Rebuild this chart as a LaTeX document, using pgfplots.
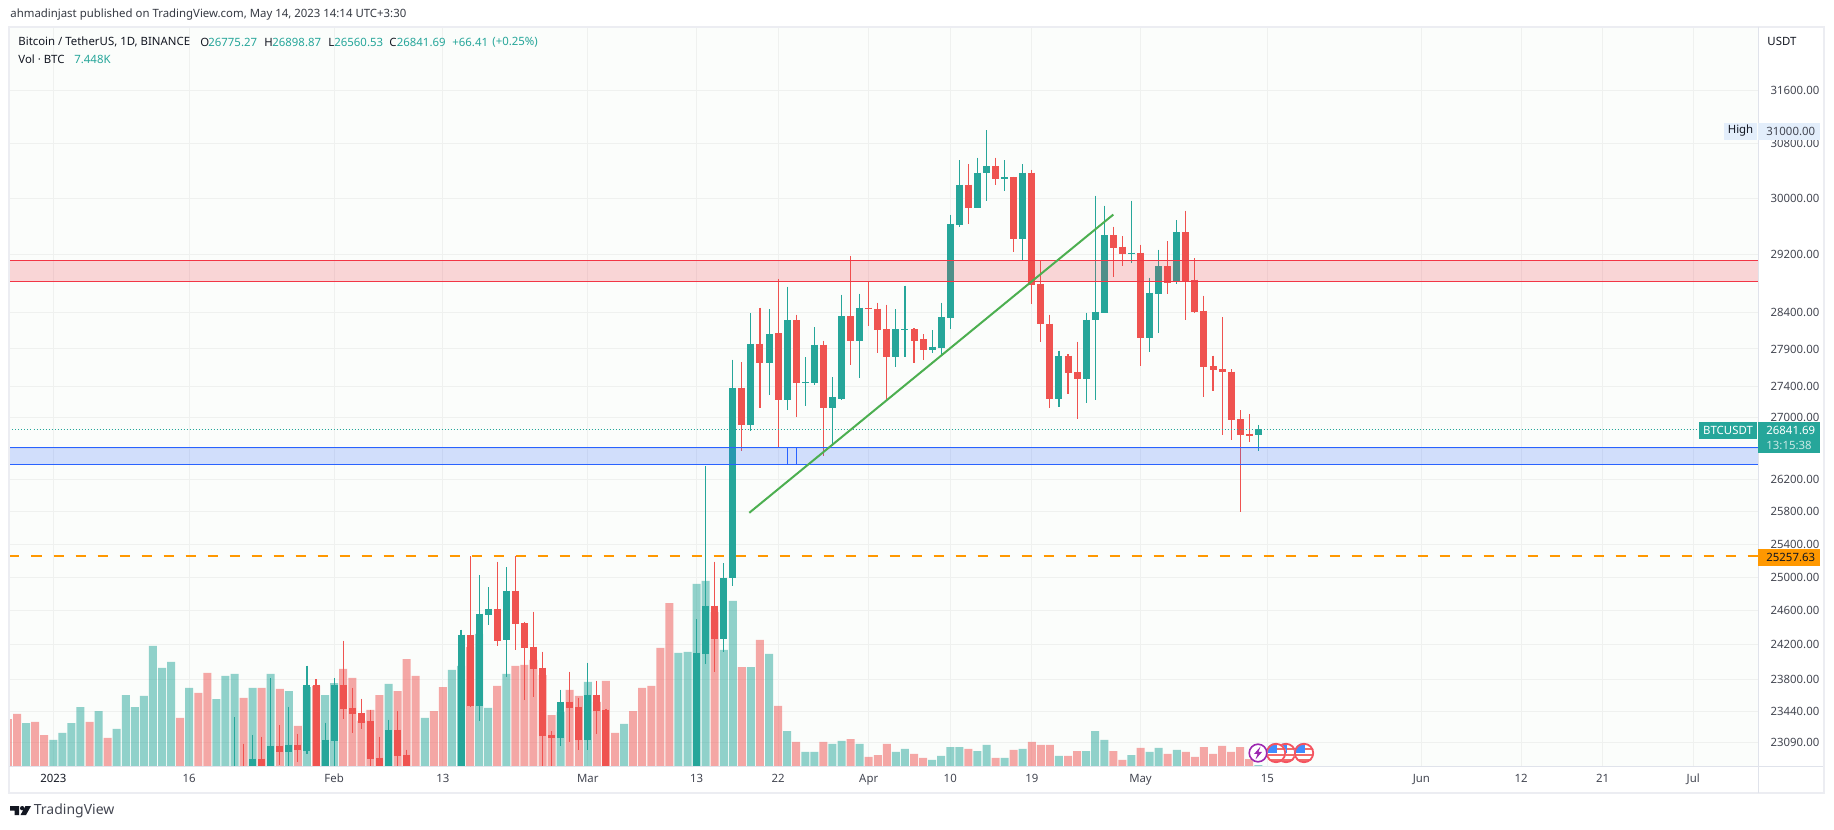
\documentclass[border=0pt]{standalone}
\usepackage{fontspec}
\setmainfont{Noto Sans}
\usepackage{pgfplots}
\usepackage{pgfplotstable}
\pgfplotsset{compat=1.18}
\definecolor{upc}{HTML}{26A69A}
\definecolor{dnc}{HTML}{EF5350}
\definecolor{bgc}{HTML}{FBFDFB}
\definecolor{gridc}{HTML}{EFF1EF}
\definecolor{framec}{HTML}{ECEDF2}
\definecolor{sepc}{HTML}{E0E3EB}
\definecolor{zred}{HTML}{F23645}
\definecolor{zblue}{HTML}{2962FF}
\definecolor{orng}{HTML}{FF9800}
\definecolor{lgreen}{HTML}{4CAF50}
\definecolor{txt}{HTML}{131722}
\definecolor{tickc}{HTML}{434651}
\definecolor{hitag}{HTML}{E3EEFB}
\definecolor{purp}{HTML}{9C27B0}
\pgfplotstableread{
d o h l c
20 22500 23367 22400 22700
22 22650 23176 22500 22908
24 22650 23809 22500 23053
26 22986 23490 22800 23064
28 22997 23958 22964 23740
30 22700 23310 22500 23120
31 23109 23809 22800 23729
37 22750 23344 22600 23232
45 22600 24377 22400 24318
47 23501 25019 23333 24565
48 24553 24875 24424 24624
50 24259 25116 23832 24839
56 23142 23683 23053 23546
59 23120 23993 23008 23625
71 22000 24495 21900 24108
72 24096 26379 23970 24659
74 24271 25164 24119 24995
75 24983 27759 24887 27388
77 26892 28381 26827 27973
79 27706 28435 27295 28096
81 27229 28751 27099 28286
83 27441 27786 27151 27455
84 27441 28191 27415 27960
86 27112 27521 26633 27256
87 27242 28640 27229 28340
89 28014 28654 27508 28462
93 27786 28435 27653 28164
94 28150 28765 27799 28164
97 27892 28150 27852 27933
98 27919 28530 27812 28327
99 28313 29765 28164 29637
100 29623 30549 29595 30198
102 29865 30592 29851 30373
103 30359 31000 29965 30461
105 30286 30549 30110 30300
107 29410 30490 29114 30373
111 27242 27879 27138 27812
114 27494 28394 27190 28299
115 28286 30037 27229 28408
116 28394 29893 28381 29467
119 29211 29965 29072 29225
121 28055 28876 27865 28668
122 28654 29267 28109 29030
124 28821 29680 28793 29510
133 26775.27 26898.87 26560.53 26841.69
}\upcandles
\pgfplotstableread{
d o h l c
21 22700 23075 22500 22600
23 22908 23154 22500 22650
25 23053 23277 22840 22986
27 23064 23187 22874 23008
29 23740 23798 22500 22700
32 23729 24248 23355 23467
33 23478 23706 23198 23411
34 23423 23579 23243 23310
35 23322 23456 22700 22908
36 22919 23154 22500 22750
38 23232 23445 22700 22941
39 22952 23008 22550 22700
46 24318 25249 23490 23501
49 24624 25188 24189 24248
51 24839 25249 24142 24436
52 24448 24471 23568 24165
53 24177 24589 23602 23924
54 23935 24119 22700 23165
55 23176 23210 22700 23142
57 23546 23889 23098 23478
58 23490 23591 23008 23120
60 23625 23786 23187 23445
61 23456 23467 22200 22350
73 24659 25188 23889 24271
76 27388 27720 26568 26892
78 27973 28462 27125 27706
80 28109 28863 26607 27229
82 28286 28367 26996 27441
85 27960 28014 26505 27112
88 28340 29183 27680 28014
90 28462 28821 28218 28435
91 28449 28530 27852 28150
92 28164 28503 27229 27786
95 28164 28177 27706 28014
96 28028 28096 27759 27892
101 30198 30490 29637 29865
104 30461 30592 30198 30286
106 30300 30315 29239 29410
108 30373 30417 28517 28779
109 28793 29114 28000 28232
110 28245 28367 27125 27242
112 27812 27830 27309 27574
113 27587 28000 26970 27494
117 29467 29595 28890 29296
118 29310 29453 29030 29211
120 29225 29339 27667 28055
123 29030 29382 28654 28807
125 29510 29822 28299 28835
126 28849 29142 28394 28408
127 28422 28626 27256 27653
128 27667 27812 27348 27614
129 27627 28327 26775 27587
130 27600 27627 26698 26957
131 26970 27086 25801 26775
132 26788 27034 26685 26762
}\dncandles
\pgfplotstableread{
d v
-3 322
0 195
1 248
2 322
3 442
5 412
7 278
8 532
9 442
10 525
11 900
12 735
13 780
15 585
18 502
19 675
20 690
22 585
24 690
26 562
28 592
30 532
31 622
37 615
41 360
44 720
45 750
47 990
48 435
50 690
56 405
59 630
63 315
69 848
70 855
71 1365
72 1388
74 870
75 1238
77 742
79 840
81 262
83 105
84 105
86 165
87 188
89 165
93 105
94 128
97 45
98 75
99 142
100 142
102 112
103 158
105 60
107 128
111 75
114 112
115 262
116 195
119 82
121 105
122 135
124 120
133 7.448
}\upvol
\pgfplotstableread{
d v
-5 352
-4 390
-2 330
-1 232
4 330
6 210
14 360
16 548
17 698
21 510
23 585
25 578
27 300
29 600
32 728
33 660
34 338
35 420
36 532
38 562
39 802
40 675
42 412
43 592
46 892
49 600
51 750
52 758
53 795
54 682
55 382
57 570
58 525
60 480
61 638
62 248
64 412
65 585
66 600
67 885
68 1222
73 1155
76 742
78 945
80 450
82 180
85 180
88 202
90 68
91 82
92 165
95 90
96 60
101 128
104 60
106 120
108 180
109 158
110 158
112 75
113 112
117 112
118 45
120 135
123 90
125 105
126 68
127 142
128 90
129 150
130 105
131 142
132 52
}\dnvol
\newcommand{\usflag}[2]{%
  \fill[white] (#1,#2) circle (10);
  \begin{scope}
    \clip (#1,#2) circle (10);
    \fill[dnc!85!white] (#1-10,#2+1) rectangle (#1+10,#2+3.5);
    \fill[dnc!85!white] (#1-10,#2+6) rectangle (#1+10,#2+8);
    \fill[dnc!85!white] (#1,#2-5) rectangle (#1+10,#2-2.5);
    \fill[blue!60!cyan!75!white] (#1-10,#2-10) rectangle (#1+1,#2);
  \end{scope}
  \draw[zred!85!white,line width=0.9pt] (#1,#2) circle (9.2);
}
\pgfplotsset{
  chartbase/.style={
    at={(4.75pt,31.5pt)},anchor=south west,scale only axis,
    width=874.5pt,height=369.5pt,
    xmin=-4.834,xmax=188.21,
    clip=true
  }
}
\begin{document}
\begin{tikzpicture}[x=0.5pt,y=0.5pt]
\path[use as bounding box,fill=white] (0,0) rectangle (1834,829);
% --- grid, ticks
\begin{axis}[chartbase,ymode=log,ymin=22831,ymax=32582,
  axis line style={draw=none},
  axis background/.style={fill=bgc},
  major tick length=0pt,
  grid=major,
  major grid style={gridc,line width=0.5pt},
  xtick={0,15,31,43,59,71,80,90,99,108,120,134,151,162,171,181},
  xticklabels={\textcolor{txt}{2023},16,Feb,13,Mar,13,22,Apr,10,19,May,15,Jun,12,21,Jul},
  ytick={31600,30800,30000,29200,28400,27900,27400,27000,26600,26200,25800,25400,25000,24600,24200,23800,23440,23090},
  yticklabels={31600.00,30800.00,30000.00,29200.00,28400.00,27900.00,27400.00,27000.00,26600.00,26200.00,25800.00,25400.00,25000.00,24600.00,24200.00,23800.00,23440.00,23090.00},
  yticklabel pos=right,
  yticklabel style={font=\fontsize{5.7}{6.5}\selectfont,text=tickc,anchor=west,xshift=2.5pt},
  xticklabel style={font=\fontsize{5.7}{6.5}\selectfont,text=tickc,anchor=center,yshift=-7pt,text height=4.2pt,text depth=1.2pt},
]
\addplot[draw=none,forget plot] coordinates {(0,25000)(1,25000)};
\end{axis}
% --- volume
\begin{axis}[chartbase,hide axis,ymin=0,ymax=5542.5]
\addplot[ybar,bar width=4pt,bar shift=0pt,draw=none,fill=upc,fill opacity=0.5] table[x=d,y=v] {\upvol};
\addplot[ybar,bar width=4pt,bar shift=0pt,draw=none,fill=dnc,fill opacity=0.5] table[x=d,y=v] {\dnvol};
\end{axis}
% --- candles and drawings
\begin{axis}[chartbase,ymode=log,ymin=22831,ymax=32582,hide axis]
\addplot[draw=none,mark=none,error bars/.cd,y dir=minus,y explicit,error mark=none,error bar style={draw=upc,line width=0.55pt}]
  table[x=d,y=h,y error minus expr=\thisrow{h}-\thisrow{l}] {\upcandles};
\addplot[draw=none,mark=none,error bars/.cd,y dir=minus,y explicit,error mark=none,error bar style={draw=dnc,line width=0.55pt}]
  table[x=d,y=h,y error minus expr=\thisrow{h}-\thisrow{l}] {\dncandles};
\addplot[draw=none,mark=none,error bars/.cd,y dir=minus,y explicit,error mark=none,error bar style={draw=upc,line width=3.5pt}]
  table[x=d,y=c,y error minus expr=\thisrow{c}-\thisrow{o}] {\upcandles};
\addplot[draw=none,mark=none,error bars/.cd,y dir=minus,y explicit,error mark=none,error bar style={draw=dnc,line width=3.5pt}]
  table[x=d,y=o,y error minus expr=\thisrow{o}-\thisrow{c}] {\dncandles};
% price line
\addplot[upc,line width=0.5pt,dash pattern=on 0.5pt off 1pt] coordinates {(-4.834,26841.69)(181.4,26841.69)};
% red zone
\addplot[draw=none,fill=zred,fill opacity=0.2] coordinates {(-4.834,28817)(188.21,28817)(188.21,29110)(-4.834,29110)} -- cycle;
\addplot[zred,line width=0.5pt] coordinates {(-4.834,29110)(188.21,29110)};
\addplot[zred,line width=0.5pt] coordinates {(-4.834,28817)(188.21,28817)};
% blue zone
\addplot[draw=none,fill=zblue,fill opacity=0.2] coordinates {(-4.834,26388)(188.21,26388)(188.21,26603)(-4.834,26603)} -- cycle;
\addplot[zblue,line width=0.5pt] coordinates {(-4.834,26603)(188.21,26603)};
\addplot[zblue,line width=0.5pt] coordinates {(-4.834,26388)(188.21,26388)};
\addplot[zblue,line width=0.5pt] coordinates {(81,26388)(81,26603)};
\addplot[zblue,line width=0.5pt] coordinates {(82,26388)(82,26603)};
% orange level
\addplot[orng,line width=1pt,dash pattern=on 5pt off 6pt] coordinates {(-4.834,25257.63)(188.21,25257.63)};
% trend line
\addplot[lgreen,line width=1pt] coordinates {(76.82,25785)(117,29765)};
\end{axis}
% --- frame, tags, text in image pixels
\begin{scope}[shift={(0pt,414.5pt)},x=0.5pt,y=-0.5pt]
\draw[framec,line width=1pt] (9,27) rectangle (1824,793);
\draw[sepc,line width=0.5pt] (1758.5,27) -- (1758.5,793);
\draw[sepc,line width=0.5pt] (9,766.5) -- (1823,766.5);
\tikzset{lab/.style={inner sep=0pt,anchor=west,font=\fontsize{5.7}{6.5}\selectfont}}
\node[lab,text=txt!85!white] at (10,15) {ahmadinjast published on TradingView.com, May 14, 2023 14:14 UTC+3:30};
\node[lab,text=txt] at (18,42) {Bitcoin / TetherUS, 1D, BINANCE};
\node[lab,text=txt] at (200,42) {O};
\node[lab,text=upc] at (208,42) {26775.27};
\node[lab,text=txt] at (264,42) {H};
\node[lab,text=upc] at (272,42) {26898.87};
\node[lab,text=txt] at (328,42) {L};
\node[lab,text=upc] at (334,42) {26560.53};
\node[lab,text=txt] at (389,42) {C};
\node[lab,text=upc] at (396.5,42) {26841.69};
\node[lab,text=upc] at (452,42) {+66.41};
\node[lab,text=upc] at (492,42) {(+0.25\%)};
\node[lab,text=txt] at (18,59) {Vol · BTC};
\node[lab,text=upc] at (74,59) {7.448K};
\node[lab,text=txt] at (1767,41) {USDT};
% High tag
\fill[hitag] (1724,123) rectangle (1757,140);
\node[lab,anchor=center,text=txt] at (1740.5,131) {High};
\fill[hitag] (1758,123) rectangle (1820,140);
\node[lab,text=tickc] at (1766,131) {31000.00};
% Last price tag
\fill[upc] (1699,422) rectangle (1757,439);
\node[lab,anchor=center,text=white] at (1728,430.5) {BTCUSDT};
\fill[upc] (1758,422) rectangle (1820,453);
\node[lab,text=white] at (1766,430.5) {\bfseries 26841.69};
\node[lab,text=white!75!upc] at (1766,445) {13:15:38};
% Orange tag
\fill[orng] (1758,549) rectangle (1820,566);
\node[lab,text=txt] at (1766,557.5) {25257.63};
% Event icons
\usflag{1286}{753}
\usflag{1276}{753}
\usflag{1304}{753}
\fill[white] (1258,753) circle (9.5);
\draw[purp,line width=0.8pt] (1258,753) circle (8.8);
\fill[purp] (1260.5,746.5) -- (1254,754) -- (1257.5,754) -- (1255.5,759.5) -- (1262,752) -- (1258.5,752) -- cycle;
% Logo
\fill[txt] (10,806) -- (19,806) -- (19,815) -- (14.5,815) -- (14.5,810.5) -- (10,810.5) -- cycle;
\fill[txt] (22.2,808.2) circle (2.2);
\fill[txt] (25.5,806) -- (31,806) -- (26,815) -- (20.5,815) -- cycle;
\node[lab,text=tickc,font=\fontsize{7}{8}\selectfont] at (33.5,811) {TradingView};
\end{scope}
\end{tikzpicture}
\end{document}
